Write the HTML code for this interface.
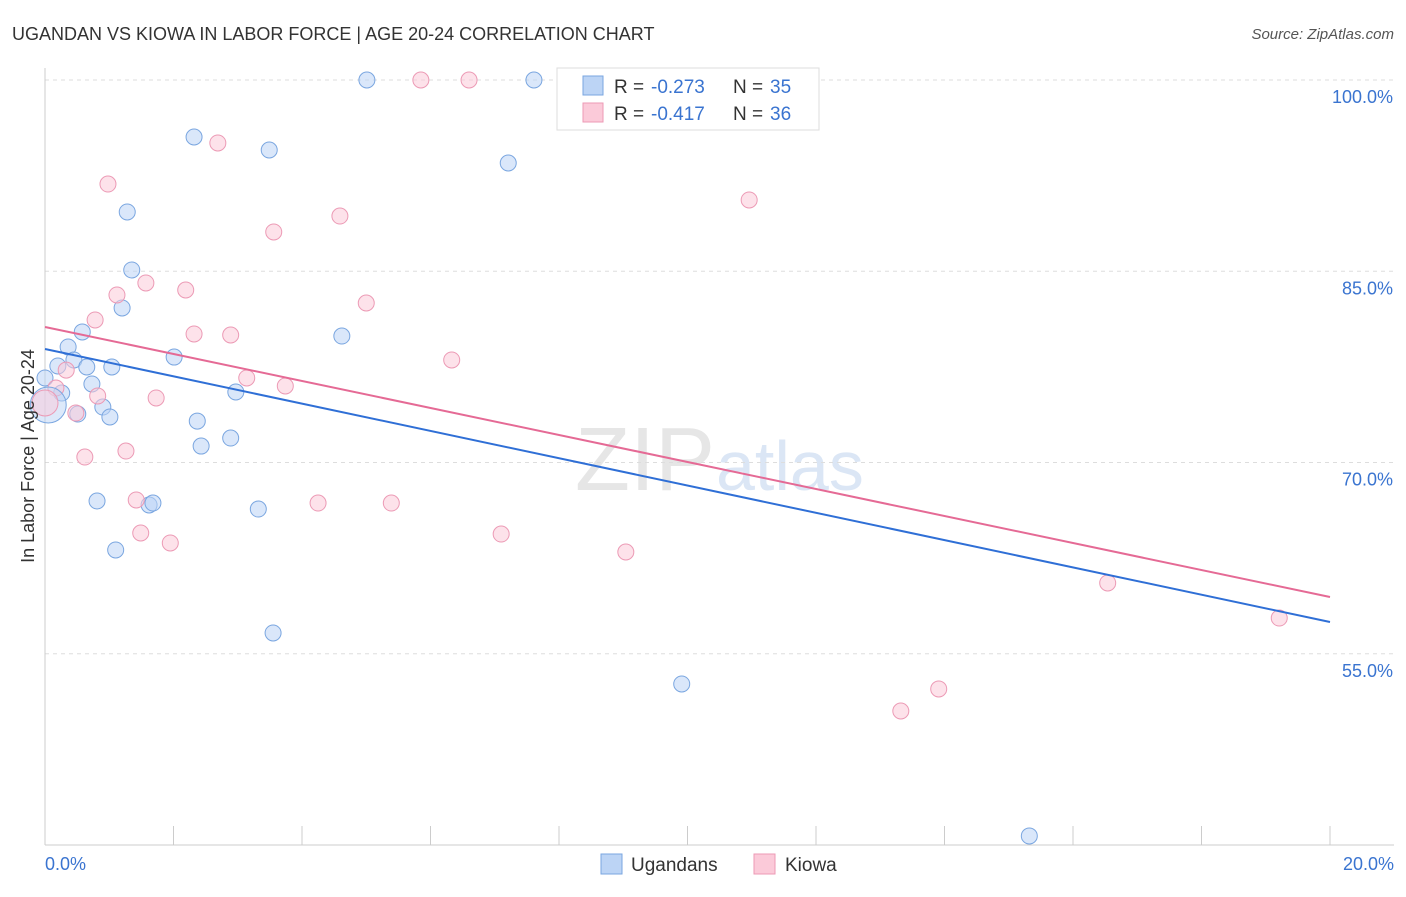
<!DOCTYPE html>
<html><head><meta charset="utf-8"><style>
body{margin:0;background:#fff;font-family:"Liberation Sans",sans-serif;}
svg text{font-family:"Liberation Sans",sans-serif;}
</style></head><body>
<svg id="chart" width="1406" height="892" xmlns="http://www.w3.org/2000/svg">
<text x="12" y="40" font-size="18" fill="#333">UGANDAN VS KIOWA IN LABOR FORCE | AGE 20-24 CORRELATION CHART</text>
<text x="1394" y="39" font-size="15" fill="#555" font-style="italic" text-anchor="end">Source: ZipAtlas.com</text>
<text x="715" y="490" font-size="90" fill="#e6e6e6" text-anchor="end" font-family="Liberation Serif">ZIP</text>
<text x="716" y="490" font-size="70" fill="#dbe6f5">atlas</text>
<g id="grid"></g><g id="axes"></g><g id="marks"></g>
<text transform="translate(34,456) rotate(-90)" font-size="18" fill="#333" text-anchor="middle">In Labor Force | Age 20-24</text>
<g>
<rect x="557" y="68" width="262" height="62" fill="#fff" stroke="#ddd"/>
<rect x="583" y="76" width="20" height="19" fill="#bcd4f5" stroke="#7aa6e0"/>
<rect x="583" y="103" width="20" height="19" fill="#fbcad9" stroke="#ec9ab5"/>
<text x="614" y="93" font-size="19" fill="#333">R =</text>
<text x="651" y="93" font-size="19" fill="#3a74d0">-0.273</text>
<text x="733" y="93" font-size="19" fill="#333">N =</text>
<text x="770" y="93" font-size="19" fill="#3a74d0">35</text>
<text x="614" y="120" font-size="19" fill="#333">R =</text>
<text x="651" y="120" font-size="19" fill="#3a74d0">-0.417</text>
<text x="733" y="120" font-size="19" fill="#333">N =</text>
<text x="770" y="120" font-size="19" fill="#3a74d0">36</text>
</g>
<g>
<rect x="601" y="854" width="21" height="20" fill="#bcd4f5" stroke="#7aa6e0"/>
<text x="631" y="871" font-size="19" fill="#333">Ugandans</text>
<rect x="754" y="854" width="21" height="20" fill="#fbcad9" stroke="#ec9ab5"/>
<text x="785" y="871" font-size="19" fill="#333">Kiowa</text>
</g>
</svg>
<script>
const yTicks=[100,85,70,55];
const xTickLabels=["0.0%","20.0%"];
const blueX=[5.01,7.61,2.32,3.49,7.21,1.28,1.35,1.2,0.58,4.62,0.36,0.45,0.2,0.65,1.04,2.01,0.73,0.26,2.97,0.9,0.51,1.01,2.37,2.89,2.43,0.81,1.62,1.68,3.32,1.1,3.55,9.91,15.32,0];
const blueY=[100,100,95.53,94.51,93.49,89.65,85.1,82.12,80.24,79.92,79.06,78.04,77.57,77.49,77.49,78.27,76.16,75.45,75.53,74.35,73.8,73.57,73.25,71.92,71.29,66.98,66.67,66.82,66.35,63.14,56.63,52.63,40.71,76.63];
const pinkX=[5.85,6.6,2.69,0.98,10.96,3.56,4.59,1.57,2.19,1.12,5.0,0.78,2.32,2.89,6.33,0.33,3.14,3.74,0.17,0.82,1.73,0.48,1.26,0.62,1.42,4.25,5.39,1.49,1.95,7.1,9.04,16.54,19.21,13.91,13.32];
const pinkY=[100,100,95.06,91.84,90.59,88.08,89.33,84.08,83.53,83.14,82.51,81.18,80.08,80,78.04,77.25,76.63,76,75.84,75.22,75.06,73.88,70.9,70.43,67.06,66.82,66.82,64.47,63.69,64.39,62.98,60.55,57.8,52.24,50.51];
const blueBig=[0.05,74.51], pinkBig=[0,74.67];
const blueTrend=[78.9,57.49], pinkTrend=[80.63,59.45];
const sx=v=>45+v*64.25, sy=v=>80+(100-v)*12.75;
const NS="http://www.w3.org/2000/svg";
function mk(p,t,a){const e=document.createElementNS(NS,t);for(const k in a)e.setAttribute(k,a[k]);document.getElementById(p).appendChild(e);return e;}
yTicks.forEach(t=>{
 const l=mk('grid','line',{x1:45,x2:1394,y1:sy(t),y2:sy(t),stroke:'#ddd','stroke-dasharray':'4,4'});
 
 
 const tx=mk('grid','text',{x:1393,y:sy(t)+23,'font-size':18,fill:'#3a74d0','text-anchor':'end'});tx.textContent=t.toFixed(1)+'%';
 
 
});
mk('axes','line',{x1:45,x2:45,y1:68,y2:845,stroke:'#ccc'});
mk('axes','line',{x1:45,x2:1394,y1:845,y2:845,stroke:'#ccc'});
for(let i=0;i<=10;i++){mk('axes','line',{x1:sx(i*2),x2:sx(i*2),y1:826,y2:845,stroke:'#ccc'});}
[[0,45,'start'],[20,1394,'end']].forEach((d,i)=>{const t=mk('axes','text',{x:d[1],y:870,'font-size':18,fill:'#3a74d0','text-anchor':d[2]});t.textContent=xTickLabels[i];
 
 });
function pts(X,Y,fill,stroke,name){X.forEach((x,i)=>{const c=mk('marks','circle',{cx:sx(x),cy:sy(Y[i]),r:8,fill:fill,'fill-opacity':0.55,stroke:stroke,'stroke-width':1});
 
 });}
pts(blueX,blueY,'#bcd4f5','#7aa6e0','ugandan-point');
pts(pinkX,pinkY,'#fbcad9','#ec9ab5','kiowa-point');
const bb=mk('marks','circle',{cx:sx(blueBig[0]),cy:sy(blueBig[1]),r:18,fill:'#bcd4f5','fill-opacity':0.5,stroke:'#7aa6e0'});


const pb=mk('marks','circle',{cx:sx(pinkBig[0]),cy:sy(pinkBig[1]),r:13,fill:'#fbcad9','fill-opacity':0.5,stroke:'#ec9ab5'});


const bl=mk('marks','line',{x1:sx(0),x2:sx(20),y1:sy(blueTrend[0]),y2:sy(blueTrend[1]),stroke:'#2f6fd6','stroke-width':2});


const pl=mk('marks','line',{x1:sx(0),x2:sx(20),y1:sy(pinkTrend[0]),y2:sy(pinkTrend[1]),stroke:'#e56a95','stroke-width':2});


</script>
</body></html>
